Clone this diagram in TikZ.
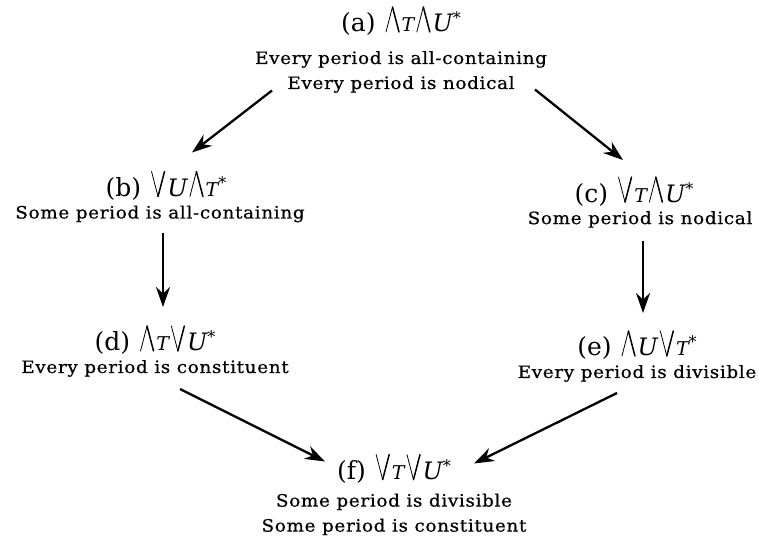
\documentclass[tikz,border=0pt]{standalone}
\usepackage{fontspec}
\setmainfont{DejaVu Serif}
\usetikzlibrary{arrows.meta,calc}

% tall thin quantifier glyphs: big wedge (all) and big vee (some)
\newcommand\qAll{\hspace{2pt}\tikz[baseline=0pt,x=1pt,y=1pt,line cap=round]{%
  \draw[line width=0.8pt] (0,0)--(6.5,25);\draw[line width=1.5pt] (6.5,25)--(13,0);}\hspace{2pt}}
\newcommand\qSome{\hspace{2pt}\tikz[baseline=0pt,x=1pt,y=1pt,line cap=round]{%
  \draw[line width=0.8pt] (0,25)--(6.5,0);\draw[line width=1.5pt] (6.5,0)--(13,25);}\hspace{2pt}}
\newcommand\vT{{\fontsize{19}{19}\selectfont\itshape T}}
\newcommand\vU{{\fontsize{24}{24}\selectfont\itshape U}}
\newcommand\vStar{\raisebox{8pt}{\fontsize{16}{16}\selectfont *}}
\newcommand\ttl[1]{{\normalfont\fontsize{25}{28}\selectfont #1}}

\tikzset{
  stmt/.style={align=center, inner sep=0pt,
    font=\fontsize{17}{25}\selectfont\addfontfeature{FakeStretch=1.08,LetterSpace=4,FakeBold=0.6}},
  arr/.style={-{Stealth[length=20pt,width=14pt]}, line width=2.3pt}
}

\begin{document}
\begin{tikzpicture}[x=1pt,y=-1pt]
\useasboundingbox (0,0) rectangle (759,543);

\node[stmt] (a) at (401,49.5) {\ttl{(a) \qAll\vT\qAll\vU\vStar}\\[7pt]Every period is all-containing\\Every period is nodical};
\node[stmt] (b) at (160,196.5) {\ttl{\hspace*{12pt}(b) \qSome\vU\qAll\vT\vStar}\\[-3pt]Some period is all-containing};
\node[stmt] (c) at (640,202) {\ttl{(c) \qSome\vT\qAll\vU\vStar\hspace*{12pt}}\\[-3pt]Some period is nodical};
\node[stmt] (d) at (155,351) {\ttl{(d) \qAll\vT\qSome\vU\vStar}\\[-3pt]Every period is constituent};
\node[stmt] (e) at (637,356) {\ttl{(e) \qAll\vU\qSome\vT\vStar}\\[-3pt]Every period is divisible};
\node[stmt] (f) at (394,494.5) {\ttl{(f) \qSome\vT\qSome\vU\vStar}\\[2pt]Some period is divisible\\Some period is constituent};

\draw[arr] ($(a)+(-129,41)$) -- ($(b)+(32,-44)$);
\draw[arr] ($(a)+(134,40)$) -- ($(c)+(-17,-42)$);
\draw[arr] ($(b)+(3,36)$) -- ($(d)+(8,-44)$);
\draw[arr] ($(c)+(3,39)$) -- ($(e)+(6,-43)$);
\draw[arr] ($(d)+(25,38)$) -- ($(f)+(-69,-33)$);
\draw[arr] ($(e)+(-20,37)$) -- ($(f)+(80,-31)$);
\end{tikzpicture}
\end{document}
